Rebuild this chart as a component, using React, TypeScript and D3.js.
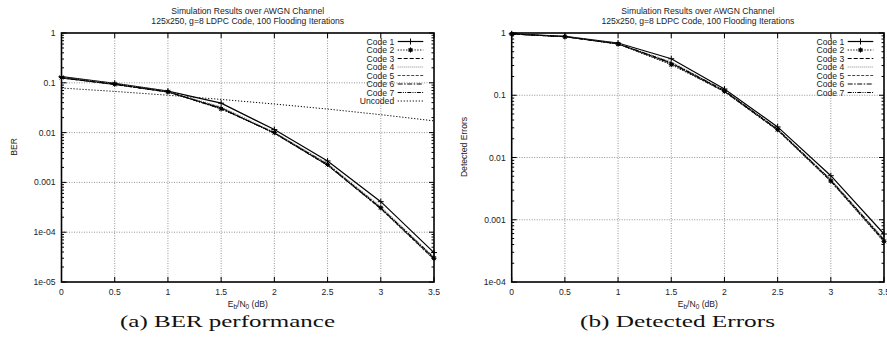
import React from "react";
import * as d3 from "d3";

const ebn0 = [0, 0.5, 1, 1.5, 2, 2.5, 3, 3.5];
const xTicks = [0, 0.5, 1, 1.5, 2, 2.5, 3, 3.5];

const codeNames = ["Code 1", "Code 2", "Code 3", "Code 4", "Code 5", "Code 6", "Code 7"];

// BER (left)
const berCode1 = [0.133, 0.098, 0.068, 0.039, 0.0115, 0.0027, 0.00041, 3.9e-5];
const berCode2 = [0.128, 0.094, 0.066, 0.030, 0.0100, 0.0023, 0.00031, 3.0e-5];
const berCode3 = [0.126, 0.093, 0.066, 0.031, 0.0098, 0.0022, 0.0003, 2.9e-5];
const berCode4 = [0.130, 0.096, 0.067, 0.033, 0.0103, 0.0024, 0.00033, 3.2e-5];
const berCode5 = [0.124, 0.092, 0.065, 0.032, 0.0096, 0.0022, 0.00029, 2.8e-5];
const berCode6 = [0.127, 0.094, 0.066, 0.030, 0.0099, 0.0023, 0.00031, 3.1e-5];
const berCode7 = [0.125, 0.093, 0.065, 0.031, 0.0097, 0.0022, 0.0003, 2.9e-5];
const berUncoded = [0.0786, 0.0671, 0.0563, 0.0464, 0.0375, 0.0297, 0.0229, 0.0172];

// Detected errors (right)
const detCode1 = [0.97, 0.885, 0.69, 0.386, 0.126, 0.031, 0.0051, 0.00059];
const detCode2 = [0.965, 0.87, 0.665, 0.31, 0.116, 0.028, 0.0042, 0.00045];
const detCode3 = [0.965, 0.875, 0.67, 0.33, 0.118, 0.028, 0.0043, 0.00047];
const detCode4 = [0.968, 0.88, 0.68, 0.345, 0.121, 0.029, 0.0045, 0.0005];
const detCode5 = [0.963, 0.872, 0.665, 0.32, 0.113, 0.027, 0.0041, 0.00044];
const detCode6 = [0.966, 0.876, 0.672, 0.335, 0.119, 0.0285, 0.0044, 0.00048];
const detCode7 = [0.964, 0.873, 0.668, 0.325, 0.115, 0.0275, 0.0042, 0.00046];

const berTickLabels = ["1", "0.1", "0.01", "0.001", "1e-04", "1e-05"];
const detTickLabels = ["1", "0.1", "0.01", "0.001", "1e-04"];

type Style = { dash: string; color: string; marker: "plus" | "star" | null; width: number };
const styles: Style[] = [
  { dash: "", color: "#000", marker: "plus", width: 1.2 },
  { dash: "1.2,1.6", color: "#000", marker: "star", width: 1.1 },
  { dash: "4,2", color: "#000", marker: null, width: 1 },
  { dash: "1,1", color: "#888", marker: null, width: 1 },
  { dash: "3,1.5", color: "#333", marker: null, width: 0.9 },
  { dash: "5,1.5,1.5,1.5", color: "#000", marker: null, width: 1 },
  { dash: "4,1.2,1,1.2,1,1.2", color: "#000", marker: null, width: 1 },
  { dash: "1.2,1.8", color: "#000", marker: null, width: 1 },
];

const FONT = "'Liberation Sans', Arial, Helvetica, sans-serif";
const FS = 8.6;

function Marker({ type, x, y }: { type: string | null; x: number; y: number }) {
  if (type === "plus") {
    const s = 3;
    return (
      <g stroke="#000" strokeWidth={1}>
        <line x1={x - s} x2={x + s} y1={y} y2={y} />
        <line x1={x} x2={x} y1={y - s} y2={y + s} />
      </g>
    );
  }
  if (type === "star") {
    const s = 2.6;
    return (
      <g stroke="#000" strokeWidth={1}>
        <line x1={x - s} x2={x + s} y1={y} y2={y} />
        <line x1={x} x2={x} y1={y - s} y2={y + s} />
        <line x1={x - s * 0.75} x2={x + s * 0.75} y1={y - s * 0.75} y2={y + s * 0.75} />
        <line x1={x - s * 0.75} x2={x + s * 0.75} y1={y + s * 0.75} y2={y - s * 0.75} />
        <rect x={x - 1.5} y={y - 1.5} width={3} height={3} fill="#000" stroke="none" />
      </g>
    );
  }
  return null;
}

type PlotProps = {
  left: number;
  right: number;
  top: number;
  bottom: number;
  yMin: number;
  yTickLabels: string[];
  series: number[][];
  names: string[];
  ylabel: string;
  ylabelX: number;
  caption: string;
  captionX: number;
  captionW: number;
};

function Plot(p: PlotProps) {
  const x = d3.scaleLinear().domain([0, 3.5]).range([p.left, p.right]);
  const y = d3.scaleLog().domain([p.yMin, 1]).range([p.bottom, p.top]);
  const majors = p.yTickLabels.map((_, i) => Math.pow(10, -i));
  const minors: number[] = [];
  for (let e = 0; e > Math.log10(p.yMin); e--) {
    for (let m = 2; m <= 9; m++) minors.push(m * Math.pow(10, e - 1));
  }
  const line = d3
    .line<number>()
    .x((_, i) => x(ebn0[i]))
    .y((d) => y(d));
  const cx = (p.left + p.right) / 2;
  const legRight = p.right - 10.7;
  const legLineX1 = legRight - 25.6;
  const legTextX = legLineX1 - 3.5;
  return (
    <g>
      {/* grid */}
      <g stroke="#666" strokeWidth={0.7} strokeDasharray="1,1.5">
        {xTicks.slice(1, -1).map((t) => (
          <line key={"gx" + t} x1={x(t)} x2={x(t)} y1={p.top} y2={p.bottom} />
        ))}
        {majors.slice(1, -1).map((t) => (
          <line key={"gy" + t} x1={p.left} x2={p.right} y1={y(t)} y2={y(t)} />
        ))}
      </g>
      {/* series */}
      {p.series.map((s, i) => (
        <path
          key={"s" + i}
          d={line(s) || ""}
          fill="none"
          stroke={styles[i].color}
          strokeWidth={styles[i].width}
          strokeDasharray={styles[i].dash || undefined}
        />
      ))}
      {p.series.map((s, i) =>
        styles[i].marker
          ? s.map((v, j) => <Marker key={"m" + i + "_" + j} type={styles[i].marker} x={x(ebn0[j])} y={y(v)} />)
          : null
      )}
      {/* ticks */}
      <g stroke="#000" strokeWidth={1}>
        {xTicks.map((t) => (
          <g key={"xt" + t}>
            <line x1={x(t)} x2={x(t)} y1={p.bottom} y2={p.bottom - 5} />
            <line x1={x(t)} x2={x(t)} y1={p.top} y2={p.top + 5} />
          </g>
        ))}
        {majors.map((t) => (
          <g key={"yt" + t}>
            <line x1={p.left} x2={p.left + 5} y1={y(t)} y2={y(t)} />
            <line x1={p.right} x2={p.right - 5} y1={y(t)} y2={y(t)} />
          </g>
        ))}
        {minors.map((t) => (
          <g key={"ym" + t}>
            <line x1={p.left} x2={p.left + 2.5} y1={y(t)} y2={y(t)} />
            <line x1={p.right} x2={p.right - 2.5} y1={y(t)} y2={y(t)} />
          </g>
        ))}
      </g>
      {/* frame */}
      <rect x={p.left} y={p.top} width={p.right - p.left} height={p.bottom - p.top} fill="none" stroke="#000" strokeWidth={1.6} />
      {/* tick labels */}
      <g fontFamily={FONT} fontSize={FS} fill="#222">
        {xTicks.map((t) => (
          <text key={"xl" + t} x={x(t)} y={p.bottom + 13} textAnchor="middle">
            {String(t)}
          </text>
        ))}
        {majors.map((t, i) => (
          <text key={"yl" + t} x={p.left - 6} y={y(t) + 3} textAnchor="end">
            {p.yTickLabels[i]}
          </text>
        ))}
        <text x={cx} y={p.bottom + 24.5} textAnchor="middle">
          E<tspan fontSize={6.5} dy={2}>b</tspan>
          <tspan dy={-2}>/N</tspan>
          <tspan fontSize={6.5} dy={2}>0</tspan>
          <tspan dy={-2}> (dB)</tspan>
        </text>
        <text transform={`translate(${p.ylabelX},147) rotate(-90)`} textAnchor="middle">
          {p.ylabel}
        </text>
        <text x={cx} y={14} textAnchor="middle">
          Simulation Results over AWGN Channel
        </text>
        <text x={cx} y={23.5} textAnchor="middle">
          125x250, g=8 LDPC Code, 100 Flooding Iterations
        </text>
        {/* legend */}
        {p.names.map((n, i) => {
          const ly = 41.5 + i * 8.5;
          return (
            <g key={"lg" + i}>
              <text x={legTextX} y={ly + 3} textAnchor="end">
                {n}
              </text>
              <line
                x1={legLineX1}
                x2={legRight}
                y1={ly}
                y2={ly}
                stroke={styles[i].color}
                strokeWidth={styles[i].width}
                strokeDasharray={styles[i].dash || undefined}
              />
              <Marker type={styles[i].marker} x={(legLineX1 + legRight) / 2} y={ly} />
            </g>
          );
        })}
      </g>
      <text
        x={p.captionX}
        y={327}
        textAnchor="middle"
        fontFamily="'Liberation Serif', 'DejaVu Serif', serif"
        fontSize={17}
        textLength={p.captionW}
        lengthAdjust="spacingAndGlyphs"
        fill="#111"
      >
        {p.caption}
      </text>
    </g>
  );
}

export default function App() {
  return (
    <svg
      width={887}
      height={347}
      viewBox="0 0 887 347"
      style={{ position: "absolute", left: 0, top: 0, background: "#fff" }}
    >
      <rect width={887} height={347} fill="#fff" />
      <Plot
        left={61.5}
        right={434}
        top={33}
        bottom={282}
        yMin={1e-5}
        yTickLabels={berTickLabels}
        series={[berCode1, berCode2, berCode3, berCode4, berCode5, berCode6, berCode7, berUncoded]}
        names={[...codeNames, "Uncoded"]}
        ylabel="BER"
        ylabelX={17}
        caption="(a)  BER performance"
        captionX={227.5}
        captionW={215}
      />
      <Plot
        left={511.7}
        right={884}
        top={33}
        bottom={282}
        yMin={1e-4}
        yTickLabels={detTickLabels}
        series={[detCode1, detCode2, detCode3, detCode4, detCode5, detCode6, detCode7]}
        names={codeNames}
        ylabel="Detected Errors"
        ylabelX={467}
        caption="(b)  Detected Errors"
        captionX={677.5}
        captionW={195}
      />
    </svg>
  );
}
